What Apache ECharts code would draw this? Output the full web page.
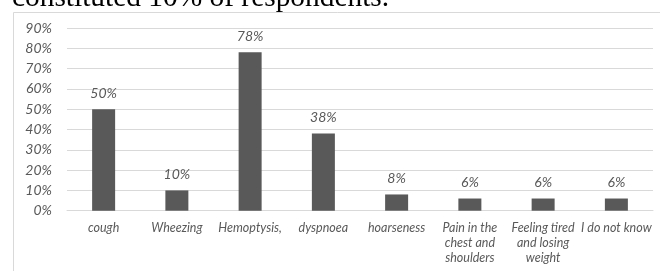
<!DOCTYPE html>
<html>
<head>
<meta charset="utf-8">
<script src="https://cdn.jsdelivr.net/npm/echarts@6/dist/echarts.min.js"></script>
<style>
html,body{margin:0;padding:0;background:#fff;}
#c{width:660px;height:271px;}
</style>
</head>
<body>
<div id="c"></div>
<script>
const categories = ["cough", "Wheezing", "Hemoptysis,", "dyspnoea", "hoarseness", "Pain in the\nchest and\nshoulders", "Feeling tired\nand losing\nweight", "I do not know"];
const values = [50, 10, 78, 38, 8, 6, 6, 6];
const yTicks = [0, 10, 20, 30, 40, 50, 60, 70, 80, 90];
const headerText = "constituted 10% of respondents.";

const chart = echarts.init(document.getElementById('c'), null, {renderer: 'canvas'});
const font = 'Lato, "Open Sans", sans-serif';
chart.setOption({
  animation: false,
  backgroundColor: '#fff',
  graphic: [
    {type: 'rect', shape: {x: 13.5, y: 12.5, width: 700, height: 400}, style: {fill: 'none', stroke: '#d9d9d9', lineWidth: 1}, z: -1},
    {type: 'text', x: 12, y: 12.5, style: {text: headerText, font: '29.4px "Liberation Serif", "DejaVu Serif", serif', fill: '#000', textAlign: 'left', textVerticalAlign: 'bottom'}, z: 10}
  ],
  grid: {left: 67, right: 7, top: 28, bottom: 60.3, containLabel: false},
  xAxis: {
    type: 'category',
    data: categories,
    axisLine: {show: true, lineStyle: {color: '#d9d9d9', width: 1}},
    axisTick: {show: false},
    axisLabel: {interval: 0, color: '#595959', fontFamily: font, fontStyle: 'italic', fontSize: 12.5, lineHeight: 15, margin: 10}
  },
  yAxis: {
    type: 'value',
    min: yTicks[0],
    max: yTicks[yTicks.length - 1],
    interval: 10,
    axisLine: {show: false},
    axisTick: {show: false},
    splitLine: {lineStyle: {color: '#d9d9d9', width: 1}},
    axisLabel: {color: '#595959', fontFamily: font, fontStyle: 'italic', fontSize: 14, margin: 15, formatter: v => v + '%'}
  },
  series: [{
    type: 'bar',
    data: values,
    barWidth: 23,
    itemStyle: {color: '#595959'},
    label: {show: true, position: 'top', distance: 9, color: '#595959', fontFamily: font, fontStyle: 'italic', fontSize: 14, formatter: p => p.value + '%'}
  }]
});
</script>
</body>
</html>
